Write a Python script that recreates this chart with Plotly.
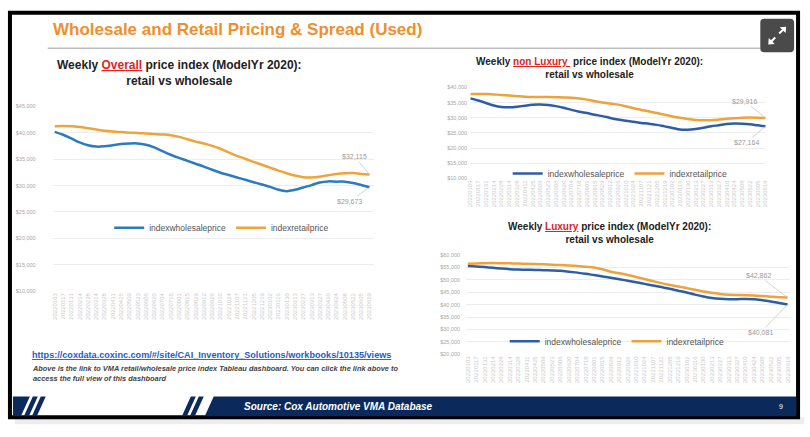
import plotly.graph_objects as go

W, H = 810, 437

# biweekly tick labels (ModelYr 2020 weekly index)
weeks = [
    "20220103", "20220117", "20220131", "20220214", "20220228", "20220314", "20220328",
    "20220411", "20220425", "20220509", "20220523", "20220606", "20220620", "20220704",
    "20220718", "20220801", "20220815", "20220829", "20220912", "20220926", "20221010",
    "20221024", "20221107", "20221121", "20221205", "20221219", "20230102", "20230116",
    "20230130", "20230213", "20230227", "20230313", "20230327", "20230410", "20230424",
    "20230508", "20230522", "20230605", "20230619",
]

overall_wholesale = [40200, 39650, 38950, 38200, 37650, 37400, 37450, 37650, 37900, 38000,
                     38000, 37750, 37250, 36550, 35850, 35250, 34700, 34150, 33600, 33000,
                     32450, 32000, 31550, 31100, 30650, 30200, 29750, 29200, 28950, 29200,
                     29650, 30100, 30600, 30800, 30750, 30750, 30500, 30100, 29673]
overall_retail = [41250, 41300, 41250, 41100, 40900, 40650, 40400, 40250, 40150, 40050,
                  40000, 39900, 39800, 39700, 39550, 39250, 38800, 38350, 38000, 37550,
                  37000, 36300, 35650, 35100, 34500, 33950, 33400, 32850, 32350, 31900,
                  31600, 31550, 31700, 31950, 32200, 32350, 32400, 32200, 32115]

nonlux_wholesale = [36400, 35700, 34900, 34050, 33550, 33450, 33650, 34000, 34300, 34350,
                    34200, 33850, 33300, 32600, 32000, 31550, 31000, 30550, 29950, 29450,
                    29000, 28650, 28300, 28000, 27650, 27150, 26650, 26100, 26050, 26300,
                    26700, 27200, 27550, 27950, 28100, 28050, 27850, 27500, 27164]
nonlux_retail = [37830, 37850, 37850, 37700, 37550, 37350, 37150, 36950, 36850, 36850,
                 36850, 36800, 36700, 36600, 36350, 36000, 35500, 35050, 34700, 34350,
                 33800, 33150, 32600, 32050, 31550, 31000, 30450, 30000, 29600, 29300,
                 29150, 29200, 29400, 29650, 29850, 30000, 30050, 30000, 29916]

lux_wholesale = [55600, 55450, 55200, 54900, 54600, 54350, 54200, 54100, 54050, 53950,
                 53850, 53700, 53350, 52950, 52500, 51950, 51400, 50900, 50300, 49700,
                 49050, 48400, 47750, 47100, 46400, 45650, 44900, 44050, 43300, 42700,
                 42350, 42200, 42200, 42300, 42200, 41800, 41300, 40700, 40081]
lux_retail = [56550, 56650, 56750, 56800, 56750, 56700, 56650, 56500, 56400, 56300,
              56150, 56000, 55850, 55650, 55300, 55000, 54300, 53300, 52700, 52000,
              51200, 50350, 49500, 48700, 48000, 47350, 46700, 46000, 45350, 44800,
              44300, 44000, 43900, 43850, 43750, 43500, 43200, 42950, 42862]


def fx(x):
    return x / W


def fy(y):
    return 1 - y / H


def path(points):
    return "M" + " L".join(f"{fx(x):.5f},{fy(y):.5f}" for x, y in points) + " Z"


def label(x, y, text, size, color, xanchor="left", **kw):
    return dict(x=fx(x), y=fy(y), xref="paper", yref="paper", xanchor=xanchor,
                yanchor=kw.pop("yanchor", "middle"), showarrow=False, text=text,
                font=dict(size=size, color=color), **kw)


charts = [
    dict(word="Overall", w=overall_wholesale, r=overall_retail,
         xdom=(50, 373), ydom=(292, 105), xr=(-0.25, 38.5), yr=(10000, 45000),
         blue="#2C7BBF", orange="#F0A33A", title=(178, 71, 12), legend=(220, 228),
         standoff=16, offs=((-20, 14), (-15, -18))),
    dict(word="non Luxury ", w=nonlux_wholesale, r=nonlux_retail,
         xdom=(470, 768), ydom=(177.7, 85.7), xr=(-0.05, 38.1), yr=(10000, 40000),
         blue="#2E5DA8", orange="#EDA23C", title=(590, 66, 10), legend=(621, 173),
         standoff=2, offs=((-19, 16), (-21, -17))),
    dict(word="Luxury", w=lux_wholesale, r=lux_retail,
         xdom=(466, 792), ydom=(356, 255.7), xr=(-0.2, 38.3), yr=(20000, 60000),
         blue="#2E5DA8", orange="#EDA23C", title=(610, 233, 10), legend=(618, 343),
         standoff=5, offs=((-27, 28), (-29, -22))),
]

fig = go.Figure()
layout = {}
annotations = []

for i, c in enumerate(charts):
    n = "" if i == 0 else str(i + 1)
    lg = "legend" + n
    fig.add_trace(go.Scatter(x=weeks, y=c["w"], name="indexwholesaleprice", mode="lines",
                             line=dict(color=c["blue"], width=2.5, shape="spline"),
                             xaxis="x" + n, yaxis="y" + n, legend=lg))
    fig.add_trace(go.Scatter(x=weeks, y=c["r"], name="indexretailprice", mode="lines",
                             line=dict(color=c["orange"], width=2.5, shape="spline"),
                             xaxis="x" + n, yaxis="y" + n, legend=lg))
    layout["xaxis" + n] = dict(domain=[fx(c["xdom"][0]), fx(c["xdom"][1])], anchor="y" + n,
                               type="category", range=list(c["xr"]), tickmode="array",
                               tickvals=weeks, tickangle=-90, showgrid=False, showline=False,
                               ticks="", tickfont=dict(size=6, color="#CACACA"))
    layout["yaxis" + n] = dict(domain=[fy(c["ydom"][0]), fy(c["ydom"][1])], anchor="x" + n,
                               range=list(c["yr"]), dtick=5000, tickprefix="$", tickformat=",d",
                               showgrid=True, gridcolor="#EDEDED", gridwidth=1, zeroline=False,
                               showline=False, ticks="", ticklabelstandoff=c["standoff"],
                               tickfont=dict(size=5.5, color="#A8A8A8"))
    layout[lg] = dict(orientation="h", x=fx(c["legend"][0]), y=fy(c["legend"][1]),
                      xanchor="center", yanchor="middle", bgcolor="rgba(0,0,0,0)",
                      font=dict(size=8.5, color="#555555"), itemwidth=30)
    tx, ty, ts = c["title"]
    annotations.append(label(
        tx, ty, f"<b>Weekly <span style='color:#E0231E'><u>{c['word']}</u></span> price index "
                f"(ModelYr 2020):<br>retail vs wholesale</b>",
        ts, "#222222", xanchor="center", align="center"))
    last = len(weeks) - 1
    for series, (ax, ay) in zip((c["w"], c["r"]), c["offs"]):
        annotations.append(dict(
            x=last, y=series[-1], xref="x" + n, yref="y" + n, text=f"${series[-1]:,}",
            showarrow=True, arrowhead=0, arrowwidth=0.8, arrowcolor="#C8C8C8", ax=ax, ay=ay,
            font=dict(size=7, color="#9A9A9A")))

# slide header / footer text
annotations += [
    label(48, 27, "<b>Wholesale and Retail Pricing & Spread (Used)</b>", 17, "#EF8F2C"),
    label(27, 357, "<b><u>https://coxdata.coxinc.com/#/site/CAI_Inventory_Solutions/workbooks/10135/views</u></b>",
          9.1, "#1F5BC4"),
    label(27, 364, "<b><i>Above is the link to VMA retail/wholesale price index Tableau dashboard. "
                   "You can click the link above to<br>access the full view of this dashboard</i></b>",
          7.4, "#444444", yanchor="top", align="left"),
    label(240, 409, "<b><i>Source: Cox Automotive VMA Database</i></b>", 10, "white"),
    label(783, 409, "9", 7, "white", xanchor="center"),
]

navy = "#0B2A5B"
shapes = [
    # shadow + black slide frame
    dict(type="rect", xref="paper", yref="paper", x0=fx(12), x1=fx(806), y0=fy(427), y1=fy(420),
         fillcolor="rgba(0,0,0,0.07)", line=dict(width=0), layer="below"),
    dict(type="rect", xref="paper", yref="paper", x0=fx(7), x1=fx(800), y0=fy(420), y1=fy(10),
         line=dict(color="black", width=4)),
    # title rule
    dict(type="line", xref="paper", yref="paper", x0=fx(45), x1=fx(762), y0=fy(46), y1=fy(46),
         line=dict(color="#BDBDBD", width=1.5)),
    # expand icon
    dict(type="path", xref="paper", yref="paper", fillcolor="#4A4A4A", line=dict(width=0),
         path="M{},{} L{},{} Q{},{} {},{} L{},{} Q{},{} {},{} L{},{} Q{},{} {},{} L{},{} Q{},{} {},{} Z".format(
             fx(766), fy(16), fx(792), fy(16), fx(796), fy(16), fx(796), fy(20),
             fx(796), fy(46), fx(796), fy(50), fx(792), fy(50), fx(766), fy(50),
             fx(762), fy(50), fx(762), fy(46), fx(762), fy(20), fx(762), fy(16), fx(766), fy(16))),
    dict(type="line", xref="paper", yref="paper", x0=fx(772), y0=fy(40), x1=fx(777), y1=fy(35),
         line=dict(color="white", width=2)),
    dict(type="line", xref="paper", yref="paper", x0=fx(781), y0=fy(31), x1=fx(786), y1=fy(26),
         line=dict(color="white", width=2)),
    dict(type="path", xref="paper", yref="paper", fillcolor="white", line=dict(width=0),
         path=path([(788, 24), (781.5, 24.5), (787.5, 30.5)])),
    dict(type="path", xref="paper", yref="paper", fillcolor="white", line=dict(width=0),
         path=path([(770, 42), (776.5, 41.5), (770.5, 35.5)])),
    # footer band
    dict(type="path", xref="paper", yref="paper", fillcolor=navy, line=dict(width=0),
         path=path([(10, 399), (27, 399), (18, 419), (10, 419)])),
    dict(type="path", xref="paper", yref="paper", fillcolor=navy, line=dict(width=0),
         path=path([(30, 399), (35, 399), (26, 419), (21, 419)])),
    dict(type="path", xref="paper", yref="paper", fillcolor=navy, line=dict(width=0),
         path=path([(38, 399), (43, 399), (34, 419), (29, 419)])),
    dict(type="path", xref="paper", yref="paper", fillcolor=navy, line=dict(width=0),
         path=path([(189, 399), (194, 399), (185, 419), (180, 419)])),
    dict(type="path", xref="paper", yref="paper", fillcolor=navy, line=dict(width=0),
         path=path([(197, 399), (202, 399), (193, 419), (188, 419)])),
    dict(type="path", xref="paper", yref="paper", fillcolor=navy, line=dict(width=0),
         path=path([(212, 399), (798, 399), (798, 419), (203, 419)])),
]

fig.update_layout(width=W, height=H, margin=dict(l=0, r=0, t=0, b=0),
                  paper_bgcolor="white", plot_bgcolor="white",
                  font=dict(family="Arial, Liberation Sans, sans-serif"),
                  annotations=annotations, shapes=shapes, **layout)

fig.write_html("out.html", config={"displayModeBar": False},
               post_script="document.body.style.margin='0';")
